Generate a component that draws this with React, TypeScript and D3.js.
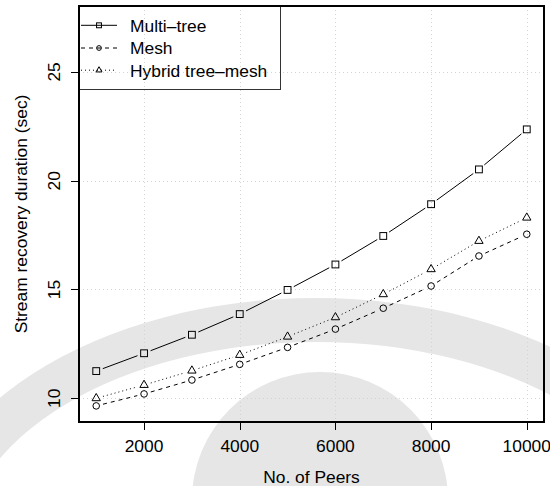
import React from "react";
import * as d3 from "d3";

const peers = [1000, 2000, 3000, 4000, 5000, 6000, 7000, 8000, 9000, 10000];
const multiTree = [11.25, 12.07, 12.92, 13.87, 14.98, 16.15, 17.46, 18.92, 20.52, 22.36];
const mesh = [9.65, 10.2, 10.84, 11.56, 12.34, 13.18, 14.14, 15.16, 16.54, 17.54];
const hybrid = [10.0, 10.61, 11.27, 11.99, 12.83, 13.72, 14.78, 15.93, 17.23, 18.3];
const xTicks = [2000, 4000, 6000, 8000, 10000];
const yTicks = [10, 15, 20, 25];
const seriesNames = ["Multi\u2013tree", "Mesh", "Hybrid tree\u2013mesh"];

const W = 550;
const H = 486;
const L = 79, R = 544, T = 6, B = 422;
const FONT = "'Liberation Sans', Arial, Helvetica, sans-serif";
const FS = 17.4;

const x = d3.scaleLinear().domain([640, 10360]).range([L, R]);
const y = d3.scaleLinear().domain([8.91, 28.03]).range([B, T]);

type Shape = "square" | "circle" | "triangle";

function Marker({ cx, cy, shape, k = 1 }: { cx: number; cy: number; shape: Shape; k?: number }) {
  if (shape === "square") {
    const h = 3.4 * k;
    return <rect x={cx - h} y={cy - h} width={2 * h} height={2 * h} fill="none" stroke="#000" strokeWidth={1} />;
  }
  if (shape === "circle") {
    return <circle cx={cx} cy={cy} r={3.3 * k} fill="none" stroke="#000" strokeWidth={1} />;
  }
  const s = 3.1 * k;
  const pts = [
    [cx, cy - 1.555 * s],
    [cx + 1.3468 * s, cy + 0.7776 * s],
    [cx - 1.3468 * s, cy + 0.7776 * s],
  ];
  return <polygon points={pts.map((p) => p.join(",")).join(" ")} fill="none" stroke="#000" strokeWidth={1} />;
}

function Series({ values, shape, dash }: { values: number[]; shape: Shape; dash?: string }) {
  const pts = peers.map((p, i) => [x(p), y(values[i])]);
  const gap = 7;
  const segs = [];
  for (let i = 0; i < pts.length - 1; i++) {
    const [x1, y1] = pts[i];
    const [x2, y2] = pts[i + 1];
    const dx = x2 - x1, dy = y2 - y1;
    const len = Math.hypot(dx, dy);
    const ux = dx / len, uy = dy / len;
    segs.push(
      <line
        key={i}
        x1={x1 + ux * gap}
        y1={y1 + uy * gap}
        x2={x2 - ux * gap}
        y2={y2 - uy * gap}
        stroke="#000"
        strokeWidth={1}
        strokeDasharray={dash}
      />
    );
  }
  return (
    <g>
      {segs}
      {pts.map(([px, py], i) => (
        <Marker key={i} cx={px} cy={py} shape={shape} />
      ))}
    </g>
  );
}

export default function App() {
  const shapes: Shape[] = ["square", "circle", "triangle"];
  const dashes = [undefined, "4,4", "1,3"];
  const legendRows = [25.3, 48, 70.2];
  return (
    <svg width={W} height={H} style={{ position: "absolute", left: 0, top: 0, background: "#fff" }}>
      {/* watermark */}
      <g fill="#e6e6e6">
        <path
          fillRule="evenodd"
          d={`M ${316 - 400} 556 a 400 258 0 1 0 800 0 a 400 258 0 1 0 -800 0 Z M ${316 - 355} 556 a 355 214 0 1 0 710 0 a 355 214 0 1 0 -710 0 Z`}
        />
        <circle cx={320} cy={500} r={128} />
      </g>
      {/* grid */}
      <g stroke="#d3d3d3" strokeWidth={1} strokeDasharray="1,3">
        {xTicks.map((t) => (
          <line key={"gx" + t} x1={Math.round(x(t)) + 0.5} x2={Math.round(x(t)) + 0.5} y1={T} y2={B} />
        ))}
        {yTicks.map((t) => (
          <line key={"gy" + t} x1={L} x2={R} y1={Math.round(y(t)) + 0.5} y2={Math.round(y(t)) + 0.5} />
        ))}
      </g>
      {/* series */}
      <Series values={multiTree} shape="square" />
      <Series values={mesh} shape="circle" dash="4,4" />
      <Series values={hybrid} shape="triangle" dash="1,3" />
      {/* axes ticks */}
      <g stroke="#000" strokeWidth={1}>
        {xTicks.map((t) => (
          <line key={"tx" + t} x1={Math.round(x(t)) + 0.5} x2={Math.round(x(t)) + 0.5} y1={B} y2={B + 8} />
        ))}
        {yTicks.map((t) => (
          <line key={"ty" + t} x1={L - 8} x2={L} y1={Math.round(y(t)) + 0.5} y2={Math.round(y(t)) + 0.5} />
        ))}
      </g>
      <g fontFamily={FONT} fontSize={FS} fill="#000">
        {xTicks.map((t) => (
          <text key={"lx" + t} x={x(t)} y={452} textAnchor="middle">
            {t}
          </text>
        ))}
        {yTicks.map((t) => (
          <text key={"ly" + t} transform={`translate(60,${y(t)}) rotate(-90)`} textAnchor="middle">
            {t}
          </text>
        ))}
        <text x={(L + R) / 2} y={482.5} textAnchor="middle">
          No. of Peers
        </text>
        <text transform={`translate(26.5,${(T + B) / 2}) rotate(-90)`} textAnchor="middle">
          Stream recovery duration (sec)
        </text>
      </g>
      {/* legend */}
      <rect x={78.5} y={5.5} width={202} height={84} fill="none" stroke="#333" strokeWidth={1} />
      {seriesNames.map((name, i) => (
        <g key={name}>
          <line x1={81} x2={117} y1={legendRows[i]} y2={legendRows[i]} stroke="#000" strokeWidth={1} strokeDasharray={dashes[i]} />
          <Marker cx={99} cy={legendRows[i]} shape={shapes[i]} k={0.72} />
          <text x={130} y={legendRows[i] + 6.3} fontFamily={FONT} fontSize={FS} fill="#000">
            {name}
          </text>
        </g>
      ))}
      {/* box */}
      <rect x={L} y={T} width={R - L} height={B - T} fill="none" stroke="#000" strokeWidth={2} />
    </svg>
  );
}
